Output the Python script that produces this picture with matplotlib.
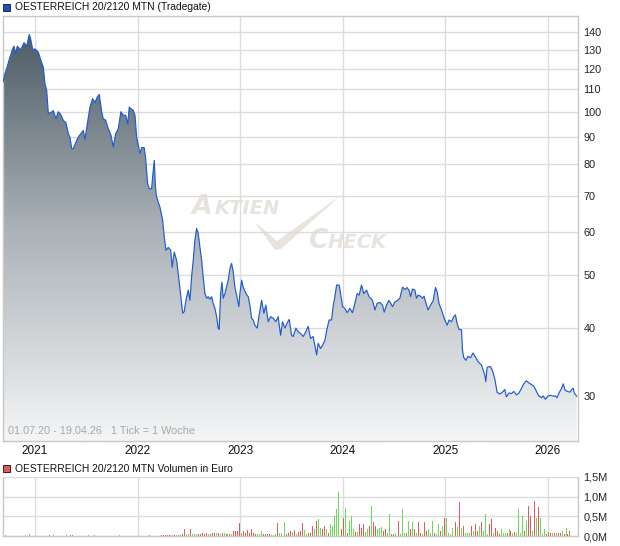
import numpy as np
import matplotlib
matplotlib.use("Agg")
import matplotlib.pyplot as plt
from matplotlib.patches import Rectangle, Polygon
from matplotlib.colors import LinearSegmentedColormap

plt.rcParams['font.family'] = ['Liberation Sans', 'DejaVu Sans']

# price data (decimal year, price)
years = [2020.688, 2020.708, 2020.724, 2020.750, 2020.783, 2020.795, 2020.812, 2020.827, 2020.861, 2020.893,
         2020.919, 2020.944, 2020.958, 2020.978, 2021.000, 2021.032, 2021.056, 2021.081, 2021.097, 2021.114,
         2021.130, 2021.163, 2021.178, 2021.205, 2021.227, 2021.250, 2021.276, 2021.302, 2021.325, 2021.341,
         2021.358, 2021.373, 2021.400, 2021.422, 2021.445, 2021.471, 2021.487, 2021.510, 2021.536, 2021.562,
         2021.585, 2021.607, 2021.627, 2021.650, 2021.666, 2021.689, 2021.714, 2021.741, 2021.763, 2021.787,
         2021.812, 2021.838, 2021.861, 2021.884, 2021.904, 2021.919, 2021.936, 2021.958, 2021.975, 2021.991,
         2022.007, 2022.023, 2022.040, 2022.065, 2022.079, 2022.098, 2022.114, 2022.137, 2022.153, 2022.163,
         2022.176, 2022.186, 2022.218, 2022.245, 2022.257, 2022.277, 2022.299, 2022.323, 2022.338, 2022.358,
         2022.381, 2022.404, 2022.420, 2022.440, 2022.455, 2022.472, 2022.494, 2022.511, 2022.527, 2022.543,
         2022.559, 2022.576, 2022.592, 2022.608, 2022.625, 2022.640, 2022.657, 2022.674, 2022.689, 2022.706,
         2022.722, 2022.738, 2022.754, 2022.771, 2022.787, 2022.796, 2022.810, 2022.823, 2022.835, 2022.852,
         2022.868, 2022.884, 2022.901, 2022.917, 2022.933, 2022.949, 2022.972, 2022.988, 2022.998, 2023.015,
         2023.030, 2023.057, 2023.079, 2023.096, 2023.112, 2023.128, 2023.144, 2023.167, 2023.186, 2023.210,
         2023.232, 2023.251, 2023.274, 2023.297, 2023.323, 2023.349, 2023.371, 2023.395, 2023.414, 2023.437,
         2023.459, 2023.479, 2023.502, 2023.518, 2023.544, 2023.566, 2023.590, 2023.615, 2023.641, 2023.664,
         2023.687, 2023.712, 2023.729, 2023.746, 2023.761, 2023.785, 2023.804, 2023.827, 2023.849, 2023.868,
         2023.892, 2023.907, 2023.924, 2023.941, 2023.966, 2023.980, 2023.999, 2024.021, 2024.044, 2024.070,
         2024.096, 2024.119, 2024.141, 2024.161, 2024.184, 2024.207, 2024.233, 2024.258, 2024.291, 2024.314,
         2024.336, 2024.363, 2024.389, 2024.405, 2024.428, 2024.450, 2024.470, 2024.486, 2024.509, 2024.531,
         2024.558, 2024.584, 2024.606, 2024.629, 2024.648, 2024.662, 2024.681, 2024.704, 2024.720, 2024.736,
         2024.759, 2024.779, 2024.794, 2024.818, 2024.833, 2024.857, 2024.882, 2024.905, 2024.921, 2024.940,
         2024.964, 2024.980, 2024.996, 2025.019, 2025.038, 2025.061, 2025.084, 2025.100, 2025.116, 2025.135,
         2025.159, 2025.169, 2025.181, 2025.201, 2025.223, 2025.247, 2025.272, 2025.298, 2025.321, 2025.354,
         2025.386, 2025.396, 2025.409, 2025.442, 2025.461, 2025.483, 2025.506, 2025.532, 2025.558, 2025.581,
         2025.597, 2025.623, 2025.646, 2025.669, 2025.695, 2025.720, 2025.744, 2025.766, 2025.792, 2025.818,
         2025.841, 2025.864, 2025.883, 2025.896, 2025.915, 2025.939, 2025.954, 2025.978, 2026.003, 2026.026,
         2026.052, 2026.075, 2026.091, 2026.110, 2026.135, 2026.151, 2026.167, 2026.189, 2026.216, 2026.232,
         2026.248, 2026.258, 2026.281]
prices = [113.4, 117.6, 120.0, 125.0, 130.6, 132.0, 128.0, 132.0, 130.0, 134.0,
          132.0, 138.7, 136.0, 130.0, 130.5, 128.7, 124.6, 120.8, 112.6, 109.5,
          99.2, 99.9, 100.5, 97.1, 100.0, 98.9, 96.4, 95.5, 91.1, 89.8,
          85.5, 85.5, 88.0, 89.8, 91.0, 92.4, 89.0, 95.0, 102.0, 105.7,
          104.0, 106.4, 107.6, 100.0, 97.0, 96.5, 93.1, 90.5, 86.2, 91.1,
          93.1, 100.0, 98.5, 98.5, 95.0, 102.0, 101.3, 100.6, 98.5, 89.8,
          86.8, 83.8, 85.9, 85.9, 82.0, 73.8, 72.2, 72.2, 78.0, 81.4,
          72.0, 69.7, 66.8, 63.2, 59.7, 55.6, 56.3, 55.6, 51.8, 55.2,
          53.3, 49.0, 46.0, 42.6, 42.9, 45.0, 47.0, 45.0, 49.7, 53.3,
          58.0, 61.0, 59.7, 56.4, 53.3, 49.7, 46.3, 45.4, 45.7, 45.2,
          45.7, 44.4, 43.5, 42.0, 40.0, 39.8, 46.3, 48.6, 45.4, 46.3,
          47.6, 49.0, 51.5, 52.6, 50.8, 47.6, 45.4, 43.8, 46.3, 49.0,
          47.6, 46.3, 45.7, 44.0, 41.7, 41.4, 40.5, 40.0, 42.3, 45.0,
          42.6, 44.1, 41.1, 42.0, 41.7, 41.1, 42.0, 38.8, 41.1, 40.0,
          40.9, 41.5, 38.8, 38.6, 40.0, 39.4, 39.1, 38.6, 39.4, 40.3,
          38.3, 38.6, 37.2, 35.7, 37.5, 36.7, 37.2, 38.0, 40.0, 41.4,
          41.4, 43.8, 45.7, 48.0, 48.0, 46.3, 43.8, 43.5, 42.7, 43.5,
          42.7, 44.4, 46.3, 46.0, 48.0, 46.3, 47.0, 45.7, 45.0, 43.2,
          44.4, 44.6, 44.1, 42.8, 44.1, 45.0, 44.4, 43.8, 44.7, 44.9,
          45.4, 47.6, 47.1, 47.5, 46.9, 45.7, 47.2, 47.0, 45.4, 46.0,
          45.8, 45.4, 45.8, 44.1, 43.2, 44.1, 44.9, 47.5, 46.7, 44.4,
          43.2, 42.3, 41.4, 40.5, 41.4, 41.1, 42.0, 42.3, 40.8, 39.8,
          39.7, 36.4, 35.3, 34.9, 35.5, 35.3, 36.0, 35.3, 34.7, 34.2,
          32.8, 31.9, 33.9, 34.0, 33.4, 32.3, 30.5, 30.25, 30.5, 30.85,
          29.9, 30.4, 30.3, 30.6, 30.15, 30.4, 31.0, 31.6, 32.0, 31.7,
          31.5, 31.3, 30.8, 30.4, 30.0, 29.8, 30.0, 29.6, 30.0, 30.1,
          30.0, 30.0, 29.8, 30.4, 31.0, 31.6, 30.8, 30.6, 30.5, 30.8,
          31.0, 30.4, 30.0]

# weekly volume in thousand euro, from the first week of the chart
# direction per week: r = down week (red), g = up week (green), . = no trade
vol_start = 2020.697
vol_kEUR = [20, 15, 0, 0, 0, 0, 0, 0, 0, 0, 0, 15, 0, 40, 0, 0, 0, 0, 0, 0,
            0, 0, 0, 15, 0, 15, 0, 0, 0, 0, 0, 0, 15, 0, 25, 35, 0, 0, 0, 0,
            0, 0, 0, 35, 0, 0, 15, 0, 0, 0, 0, 0, 0, 0, 0, 0, 0, 0, 0, 35,
            0, 0, 0, 0, 0, 0, 0, 0, 0, 0, 0, 0, 0, 0, 15, 0, 0, 0, 0, 0,
            20, 20, 25, 25, 20, 20, 25, 25, 30, 30, 30, 40, 170, 50, 40, 170, 50, 50, 40, 60,
            55, 80, 60, 70, 50, 60, 80, 70, 80, 70, 60, 65, 65, 60, 50, 50, 55, 130, 130, 130,
            320, 85, 130, 70, 145, 85, 170, 85, 45, 50, 40, 120, 40, 45, 50, 45, 30, 35, 50, 340,
            85, 70, 40, 360, 45, 85, 120, 90, 150, 45, 100, 120, 320, 150, 45, 80, 85, 260, 170, 390,
            430, 215, 170, 260, 170, 85, 300, 260, 520, 690, 1120, 1220, 170, 470, 715, 85, 390, 520, 170, 100,
            100, 300, 215, 300, 100, 170, 260, 760, 345, 260, 170, 215, 240, 130, 170, 85, 560, 45, 45, 85,
            70, 390, 45, 690, 85, 85, 390, 170, 345, 170, 85, 345, 85, 45, 345, 130, 170, 85, 390, 85,
            45, 300, 130, 260, 470, 470, 85, 45, 215, 215, 345, 240, 860, 215, 260, 85, 85, 85, 260, 130,
            300, 130, 260, 345, 130, 560, 45, 300, 430, 85, 215, 130, 45, 170, 85, 85, 85, 170, 130, 85,
            100, 85, 690, 85, 520, 130, 390, 775, 520, 130, 900, 470, 730, 470, 45, 170, 45, 100, 85, 85,
            85, 85, 70, 85, 130, 45, 215, 45, 130]
vol_dir = ("gg.........g.g......"
           "...r.g......g.rr...."
           "...g..g............g"
           "..............r....."
           "rrrrrggrgrrrrggrgggr"
           "rrrrgrrrgrgrgrgrgrrr"
           "rgrrrrrrrgggrrrrgggr"
           "ggggrrrgrgrrrggrrrgr"
           "ggrrgrgggggrrrgrgggr"
           "grrrggrgrrgggrrggrrg"
           "grgggrgrgrgrrgrrgggr"
           "ggrgrgggggrgrgrgggrg"
           "rrgrgggrrgrrrgggrgrg"
           "rggggrgrrgrgrgggrrrg"
           "rgrrgrgrr")

ticks_main = [30, 40, 50, 60, 70, 80, 90, 100, 110, 120, 130, 140]
year_ticks = [2021, 2022, 2023, 2024, 2025, 2026]
vol_ticks = [0, 0.5, 1.0, 1.5]
vol_labels = ["0,0M", "0,5M", "1,0M", "1,5M"]

W, H = 620, 546
fig = plt.figure(figsize=(W / 100, H / 100), dpi=100)
fig.patch.set_facecolor("white")

xlim = (2020.688, 2026.295)
gridc = "#dcdcdc"
spinec = "#c8c8c8"

# ---- price panel
ax = fig.add_axes([3 / W, 1 - 441 / H, 575 / W, 425 / H])
ax.set_yscale("log")

cmap = LinearSegmentedColormap.from_list("fillgrad", ["#f4f5f6", "#aab1b7", "#46555f"])
grad = np.linspace(0, 1, 256).reshape(-1, 1)
im = ax.imshow(grad, extent=[0, 1, 0, 1], transform=ax.transAxes, aspect="auto",
               cmap=cmap, origin="lower", zorder=1, interpolation="bilinear")
poly = ax.fill_between(years, prices, 1, facecolor="none", edgecolor="none")
im.set_clip_path(poly.get_paths()[0], ax.transData)
ax.plot(years, prices, color="#1f5bd0", lw=0.85, zorder=3)
ax.set_xlim(*xlim)
ax.set_ylim(24.8, 150)

ax.set_yticks(ticks_main)
ax.set_yticklabels([str(t) for t in ticks_main])
ax.yaxis.set_minor_locator(matplotlib.ticker.NullLocator())
ax.yaxis.tick_right()
ax.set_xticks(year_ticks)
ax.set_xticklabels([str(t) for t in year_ticks])
ax.tick_params(axis="y", length=0, labelsize=7.8, colors="#222222", pad=4)
ax.tick_params(axis="x", length=0, labelsize=8.5, colors="#111111", pad=3)
ax.grid(True, color=gridc, lw=1, zorder=0)
ax.set_axisbelow(True)
for s in ax.spines.values():
    s.set_color(spinec)
    s.set_linewidth(1)

# watermark (decoration, axes coordinates)
wm = "#e8e3dd"
ax.text(0.329, 0.535, "A", transform=ax.transAxes, fontsize=19, style="italic", weight="bold",
        color=wm, zorder=0.5, family="DejaVu Sans")
ax.text(0.368, 0.535, "KTIEN", transform=ax.transAxes, fontsize=14, style="italic", weight="bold",
        color=wm, zorder=0.5, family="DejaVu Sans")
ax.text(0.531, 0.453, "C", transform=ax.transAxes, fontsize=19, style="italic", weight="bold",
        color=wm, zorder=0.5, family="DejaVu Sans")
ax.text(0.565, 0.453, "HECK", transform=ax.transAxes, fontsize=14, style="italic", weight="bold",
        color=wm, zorder=0.5, family="DejaVu Sans")
check_px = [(255, 222), (277, 241), (340, 196), (281, 249), (275, 250), (259, 228)]
check = Polygon([((px - 3) / 575, (441 - py) / 425) for px, py in check_px], closed=True,
                transform=ax.transAxes, facecolor=wm, edgecolor="none", zorder=0.5)
ax.add_patch(check)

ax.text(0.009, 0.012, "01.07.20 - 19.04.26   1 Tick = 1 Woche", transform=ax.transAxes,
        fontsize=7.8, color="#a8a8a8", va="bottom", ha="left")

# title legend
fig.patches.append(Rectangle((3 / W, 1 - 11 / H), 7 / W, 7 / H, transform=fig.transFigure,
                             facecolor="#1f4fb4", edgecolor="#1a2a50", lw=0.7))
fig.text(15 / W, 1 - 7.5 / H, "OESTERREICH 20/2120 MTN (Tradegate)", fontsize=7.4,
         color="#111111", va="center", ha="left")

# ---- volume panel
axv = fig.add_axes([3 / W, 1 - 536 / H, 575 / W, 59 / H])
week = 7 / 365.25
vol_x = [vol_start + i * week for i in range(len(vol_kEUR))]
vol_m = [v / 1000 for v in vol_kEUR]
vol_c = ["#e05a5a" if d == "r" else "#66dd55" for d in vol_dir]
axv.bar(vol_x, vol_m, width=0.5 * week, color=vol_c, linewidth=0, antialiased=False, zorder=2)
axv.set_xlim(*xlim)
axv.set_ylim(0, 1.5)
axv.set_yticks(vol_ticks)
axv.set_yticklabels(vol_labels)
axv.yaxis.tick_right()
axv.set_xticks(year_ticks)
axv.set_xticklabels([])
axv.tick_params(axis="both", length=0, labelsize=7.8, colors="#222222", pad=4)
axv.grid(True, color=gridc, lw=1, zorder=0)
axv.set_axisbelow(True)
for s in axv.spines.values():
    s.set_color(spinec)
    s.set_linewidth(1)
axv.spines["top"].set_visible(False)

fig.patches.append(Rectangle((3 / W, 1 - 472 / H), 7 / W, 7 / H, transform=fig.transFigure,
                             facecolor="#d9605a", edgecolor="#3a2020", lw=0.7))
fig.text(15 / W, 1 - 468.5 / H, "OESTERREICH 20/2120 MTN Volumen in Euro", fontsize=7.4,
         color="#111111", va="center", ha="left")

fig.savefig("out.png", dpi=100)
